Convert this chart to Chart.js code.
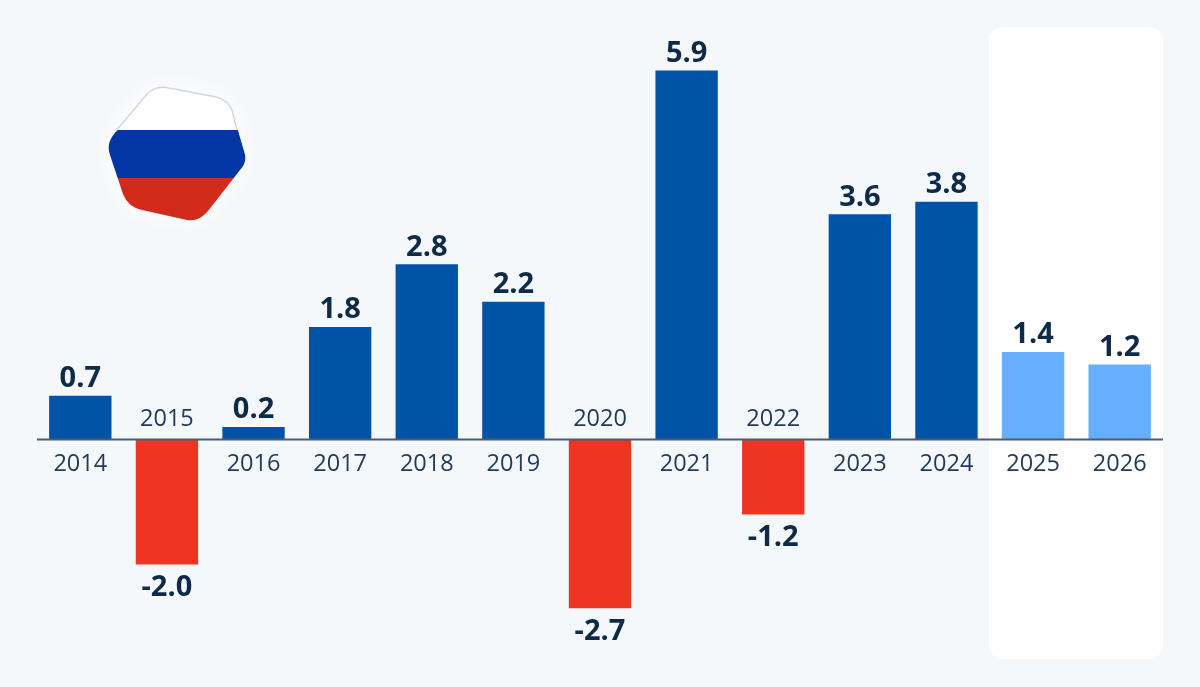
<!DOCTYPE html>
<html>
<head>
<meta charset="utf-8">
<script src="https://cdn.jsdelivr.net/npm/chart.js@4"></script>
<style>
html,body{margin:0;padding:0;background:#f5f8fb;}
#wrap{position:relative;width:1200px;height:687px;overflow:hidden;}
#panel{position:absolute;left:989px;top:27px;width:174px;height:632px;background:#fff;border-radius:14px;}
canvas{position:absolute;left:0;top:0;}
#flag{position:absolute;left:100px;top:80px;overflow:visible;filter:drop-shadow(0 0 12px rgba(255,255,255,0.9));}
</style>
</head>
<body>
<div id="wrap">
<div id="panel"></div>
<canvas id="myChart" width="1200" height="687"></canvas>
<svg id="flag" width="155" height="150" viewBox="100 80 155 150">
<defs>
<clipPath id="hex"><path d="M147 94 Q156 85 169 88 L216 97 Q228 100 232 110 L244 151 Q248 162 240 170 L208 211 Q199 222 187 220 L142 210 Q128 207 123 194 L110 155 Q106 144 114 134 Z"/></clipPath>
</defs>
<g clip-path="url(#hex)">
<rect x="100" y="80" width="155" height="50" fill="#ffffff"/>
<rect x="100" y="130" width="155" height="48" fill="#0336a4"/>
<rect x="100" y="178" width="155" height="52" fill="#d22b1c"/>
</g>
<path d="M147 94 Q156 85 169 88 L216 97 Q228 100 232 110 L237 130" fill="none" stroke="#d3d6dc" stroke-width="1.5"/>
<path d="M147 94 L116 131" fill="none" stroke="#d3d6dc" stroke-width="1.5"/>
</svg>
</div>
<script>
var years = ["2014","2015","2016","2017","2018","2019","2020","2021","2022","2023","2024","2025","2026"];
var growth = [0.7,-2.0,0.2,1.8,2.8,2.2,-2.7,5.9,-1.2,3.6,3.8,1.4,1.2];
var forecast = ["2025","2026"];

var blue = "#0054a8";
var red = "#ee3524";
var lightBlue = "#66afff";
var dark = "#0f2a47";

function barColor(i){
  if(forecast.indexOf(years[i]) >= 0) return lightBlue;
  return growth[i] < 0 ? red : blue;
}

// value labels and the year labels sit on opposite sides of the zero line
var labelPlugin = {
  id: "barLabels",
  afterDatasetsDraw: function(chart){
    var ctx = chart.ctx;
    var meta = chart.getDatasetMeta(0);
    var zero = chart.scales.y.getPixelForValue(0);
    ctx.save();
    ctx.textAlign = "center";
    ctx.textBaseline = "middle";
    meta.data.forEach(function(bar, i){
      var neg = growth[i] < 0;
      ctx.font = "700 29px 'Open Sans'";
      ctx.fillStyle = dark;
      ctx.fillText(growth[i].toFixed(1), bar.x, neg ? bar.y + 23 : bar.y - 17);
      ctx.font = "400 23.5px 'Open Sans'";
      ctx.fillStyle = "#233b56";
      ctx.fillText(years[i], bar.x, neg ? zero - 20 : zero + 25);
    });
    // zero line
    ctx.strokeStyle = "#4a5d73";
    ctx.lineWidth = 2;
    ctx.beginPath();
    ctx.moveTo(37, zero);
    ctx.lineTo(1163, zero);
    ctx.stroke();
    ctx.restore();
  }
};

new Chart("myChart", {
  type: "bar",
  data: {
    labels: years,
    datasets: [{
      data: growth,
      backgroundColor: years.map(function(y, i){ return barColor(i); }),
      borderWidth: 0,
      barPercentage: 0.72,
      categoryPercentage: 1
    }]
  },
  options: {
    responsive: false,
    animation: false,
    layout: { padding: { left: 37, right: 37, top: 0, bottom: 0 } },
    plugins: { legend: { display: false }, tooltip: { enabled: false } },
    scales: {
      x: { display: false },
      y: {
        display: false,
        min: -3.957,
        max: 7.026
      }
    }
  },
  plugins: [labelPlugin]
});
</script>
</body>
</html>
